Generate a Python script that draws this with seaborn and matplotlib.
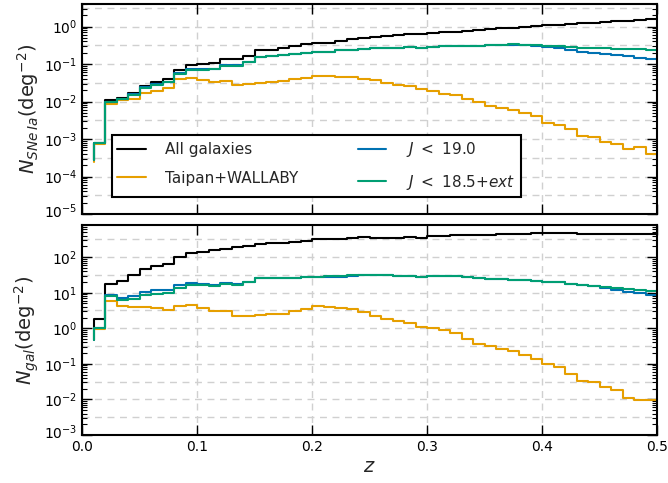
import numpy as np
import pandas as pd
import matplotlib
matplotlib.use("Agg")
import matplotlib.pyplot as plt
import matplotlib.transforms as mtransforms
from matplotlib.ticker import LogLocator, NullFormatter, MultipleLocator, FormatStrFormatter
import seaborn as sns

# ---------------- data (bin upper edges in redshift) ----------------
z = [0.01, 0.02, 0.03, 0.04, 0.05, 0.06, 0.07, 0.08, 0.09, 0.10,
     0.11, 0.12, 0.13, 0.14, 0.15, 0.16, 0.17, 0.18, 0.19, 0.20,
     0.21, 0.22, 0.23, 0.24, 0.25, 0.26, 0.27, 0.28, 0.29, 0.30,
     0.31, 0.32, 0.33, 0.34, 0.35, 0.36, 0.37, 0.38, 0.39, 0.40,
     0.41, 0.42, 0.43, 0.44, 0.45, 0.46, 0.47, 0.48, 0.49, 0.50]

labels = ["All galaxies", "Taipan+WALLABY", r"$J\ <\ 19.0$", r"$J\ <\ 18.5$+$ext$"]
colors = ["black", "#E69F00", "#0072B2", "#009E73"]

# top panel: SNe Ia per deg^2
sne_all = [2.8e-4, 8e-4, 1.1e-2, 1.28e-2, 1.73e-2, 2.6e-2, 3.3e-2, 4.0e-2, 6.9e-2, 9.5e-2,
           0.10, 0.11, 0.134, 0.134, 0.165, 0.23, 0.24, 0.26, 0.30, 0.34,
           0.37, 0.37, 0.42, 0.46, 0.50, 0.52, 0.55, 0.58, 0.62, 0.64,
           0.67, 0.70, 0.73, 0.77, 0.81, 0.85, 0.89, 0.93, 0.98, 1.03,
           1.08, 1.12, 1.17, 1.22, 1.27, 1.32, 1.37, 1.42, 1.48, 1.55]
sne_taipan = [2.5e-4, 7.5e-4, 8.7e-3, 1.07e-2, 1.2e-2, 1.66e-2, 1.95e-2, 2.3e-2, 4.0e-2, 4.2e-2,
              3.8e-2, 3.4e-2, 3.6e-2, 2.8e-2, 2.9e-2, 3.2e-2, 3.3e-2, 3.6e-2, 3.9e-2, 4.2e-2,
              4.8e-2, 4.8e-2, 4.5e-2, 4.6e-2, 3.9e-2, 3.8e-2, 3.1e-2, 2.84e-2, 2.6e-2, 2.13e-2,
              1.96e-2, 1.6e-2, 1.5e-2, 1.2e-2, 1.0e-2, 7.7e-3, 6.6e-3, 6.0e-3, 4.9e-3, 4.0e-3,
              2.75e-3, 2.4e-3, 1.8e-3, 1.2e-3, 1.1e-3, 8.5e-4, 7.4e-4, 5.3e-4, 6.3e-4, 4.0e-4]
sne_j19 = [2.8e-4, 8e-4, 1.0e-2, 1.2e-2, 1.55e-2, 2.4e-2, 2.9e-2, 3.4e-2, 5.8e-2, 7.2e-2,
           7.2e-2, 7.6e-2, 0.094, 0.094, 0.115, 0.15, 0.16, 0.17, 0.19, 0.195,
           0.215, 0.215, 0.23, 0.24, 0.25, 0.26, 0.265, 0.27, 0.285, 0.27,
           0.29, 0.30, 0.30, 0.31, 0.31, 0.32, 0.325, 0.33, 0.32, 0.30,
           0.28, 0.26, 0.24, 0.215, 0.20, 0.185, 0.17, 0.16, 0.145, 0.135]
sne_j185 = [2.8e-4, 8e-4, 1.0e-2, 1.17e-2, 1.5e-2, 2.3e-2, 2.8e-2, 3.3e-2, 5.5e-2, 6.9e-2,
            6.9e-2, 7.3e-2, 0.091, 0.091, 0.112, 0.15, 0.16, 0.17, 0.19, 0.195,
            0.215, 0.215, 0.23, 0.24, 0.25, 0.26, 0.265, 0.27, 0.285, 0.27,
            0.29, 0.30, 0.30, 0.31, 0.31, 0.32, 0.33, 0.335, 0.33, 0.32,
            0.31, 0.30, 0.29, 0.275, 0.265, 0.26, 0.255, 0.25, 0.245, 0.24]

# bottom panel: galaxies per deg^2
gal_all = [1.0, 1.86, 17.8, 20.8, 32, 47, 58, 64, 104, 132,
           138, 154, 171, 191, 204, 231, 242, 252, 263, 287,
           313, 313, 327, 348, 363, 350, 352, 355, 370, 342,
           400, 405, 410, 418, 425, 430, 438, 445, 455, 462,
           468, 468, 462, 458, 455, 452, 448, 442, 445, 450]
gal_taipan = [0.46, 0.95, 5.7, 4.1, 3.9, 4.0, 3.7, 3.3, 4.1, 4.6,
              3.7, 3.0, 3.0, 2.2, 2.2, 2.3, 2.6, 2.6, 3.0, 3.4,
              4.1, 3.9, 3.7, 3.4, 2.9, 2.2, 1.8, 1.6, 1.45, 1.1,
              1.0, 0.87, 0.76, 0.51, 0.37, 0.32, 0.26, 0.23, 0.18, 0.14,
              0.096, 0.082, 0.053, 0.033, 0.030, 0.023, 0.018, 0.011, 0.0096, 0.0096]
gal_j19 = [0.46, 1.05, 8.4, 7.1, 8.1, 10.5, 11.6, 12.2, 16.7, 19.0,
           17.8, 16.7, 18.7, 17.5, 20.0, 25.8, 25.8, 26.5, 26.5, 27.5,
           27.5, 28.0, 27.5, 30.0, 31.5, 31.0, 30.5, 30.0, 29.5, 27.0,
           29.0, 29.0, 28.7, 27.0, 26.5, 24.5, 24.0, 23.5, 22.5, 21.5,
           20.0, 19.5, 18.0, 16.5, 15.0, 13.5, 12.0, 10.8, 9.8, 8.5]
gal_j185 = [0.46, 1.05, 8.1, 6.1, 6.8, 8.4, 9.4, 10.0, 13.8, 16.8,
            16.0, 15.4, 17.8, 16.7, 20.0, 25.8, 25.8, 26.5, 26.5, 27.5,
            27.5, 28.7, 28.7, 30.6, 32.0, 31.0, 30.5, 30.0, 29.5, 27.0,
            29.0, 29.0, 28.7, 27.0, 26.5, 24.5, 24.0, 23.5, 22.5, 21.5,
            20.0, 19.5, 18.0, 17.0, 15.5, 14.5, 13.5, 13.0, 12.0, 11.0]

top_series = [sne_all, sne_taipan, sne_j19, sne_j185]
bot_series = [gal_all, gal_taipan, gal_j19, gal_j185]

# ---------------- style ----------------
sns.set_style("white")
plt.rcParams["font.family"] = ["DejaVu Sans"]
plt.rcParams["mathtext.fontset"] = "dejavusans"
plt.rcParams["axes.linewidth"] = 1.5

fig = plt.figure(figsize=(6.68, 4.83), dpi=100)
left, width = 82 / 668, (657 - 82) / 668
ax1 = fig.add_axes([left, 1 - 214 / 483, width, 210 / 483])
ax2 = fig.add_axes([left, 1 - 435 / 483, width, 210 / 483])


def draw(ax, series, legend):
    for vals, lab, col in zip(series, labels, colors):
        df = pd.DataFrame({"z": z, "n": vals})
        sns.lineplot(data=df, x="z", y="n", ax=ax, color=col, lw=1.5,
                     drawstyle="steps-pre", estimator=None, errorbar=None,
                     label=lab if legend else None, legend=legend)


draw(ax1, top_series, True)
draw(ax2, bot_series, False)

ylims = {ax1: (1e-5, 4.0), ax2: (1e-3, 800.0)}
for ax, ylim in ylims.items():
    ax.set_yscale("log")
    ax.set_xlim(0.0, 0.5)
    ax.set_ylim(*ylim)
    ax.yaxis.set_major_locator(LogLocator(base=10, numticks=30))
    ax.yaxis.set_minor_locator(LogLocator(base=10, subs=np.arange(2, 10), numticks=30))
    ax.yaxis.set_minor_formatter(NullFormatter())
    ax.xaxis.set_major_locator(MultipleLocator(0.1))
    ax.tick_params(which="both", direction="in", top=True, right=True,
                   left=True, bottom=True, labelsize=10, colors="black")
    ax.tick_params(which="major", length=7.5, width=1.0)
    ax.tick_params(which="minor", length=3.5, width=0.8)
    ax.grid(True, which="major", axis="both", color="#d0d0d0", ls=(0, (5, 4)), lw=1.0)
    lo, hi = np.log10(ylim[0]), np.log10(ylim[1])
    for k in np.arange(np.floor(lo), np.ceil(hi)) + 0.5:
        if lo < k < hi:
            ax.axhline(10 ** k, color="#d0d0d0", ls=(0, (5, 4)), lw=1.0, zorder=0)
    ax.set_axisbelow(True)
    for s in ax.spines.values():
        s.set_color("black")
        s.set_linewidth(1.5)

ax1.set_xlabel("")
ax1.tick_params(labelbottom=False)
ax1.set_ylabel(r"$N_{SNe\,Ia}(\mathrm{deg}^{-2})$", fontsize=14, labelpad=2)
ax2.set_ylabel(r"$N_{gal}(\mathrm{deg}^{-2})$", fontsize=14, labelpad=2)
ax2.set_xlabel(r"$z$", fontsize=14, labelpad=2)
ax2.xaxis.set_major_formatter(FormatStrFormatter("%.1f"))

leg = ax1.legend(loc="lower left", bbox_to_anchor=(0.052, 0.081), ncol=2,
                 fontsize=11, frameon=True, fancybox=False, framealpha=1,
                 edgecolor="black", handlelength=1.85, handletextpad=1.3,
                 columnspacing=3.9, labelspacing=0.88, borderpad=0.35,
                 borderaxespad=0)
leg.get_frame().set_linewidth(1.5)

# lift the lowest y tick label of each panel a little, as in the original
fig.canvas.draw()
lift = mtransforms.ScaledTranslation(0, 4 / 100, fig.dpi_scale_trans)
for ax, ylim in ylims.items():
    for t in ax.yaxis.get_major_ticks():
        if np.isclose(t.get_loc(), ylim[0]):
            t.label1.set_transform(t.label1.get_transform() + lift)

fig.savefig("out.png", dpi=100)
